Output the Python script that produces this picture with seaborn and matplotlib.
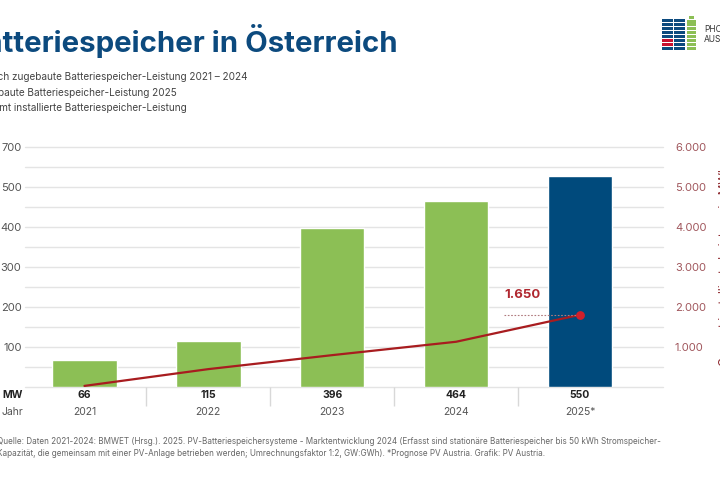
import matplotlib
matplotlib.use("Agg")
import matplotlib.pyplot as plt
import matplotlib.patches as mpatches
import seaborn as sns

sns.set_theme(style="white")
plt.rcParams["font.family"] = ["Inter", "DejaVu Sans"]

# data
jahre = ["2021", "2022", "2023", "2024", "2025*"]
mw_label = ["66", "115", "396", "464", "550"]
mw_balken = [66, 115, 396, 464, 528]          # drawn bar heights (MW)
gesamt = [20, 440, 790, 1125, 1800]           # cumulative line (MWh, right axis)
gesamt_label = "1.650"
links_ticks = [100, 200, 300, 400, 500, 600]
links_labels = ["100", "200", "300", "400", "500", "700"]
rechts_ticks = [1000, 2000, 3000, 4000, 5000, 6000]
rechts_labels = ["1.000", "2.000", "3.000", "4.000", "5.000", "6.000"]

gruen = "#8cbf55"
blau = "#004a7c"
rot = "#a81c1f"
rot_punkt = "#d1202b"
titel_blau = "#0c4a7e"
grau = "#555555"

fig = plt.figure(figsize=(7.2, 4.8), dpi=100)
ax = fig.add_axes([25 / 720, 1 - 386.7 / 480, (663 - 25) / 720, (386.7 - 147) / 480])

sns.barplot(x=jahre, y=mw_balken, hue=jahre, palette=[gruen] * 4 + [blau],
            width=0.52, legend=False, saturation=1, ax=ax, zorder=2)
ax.set_xlim(-0.48, 4.67)
ax.set_ylim(0, 600)
ax.set_yticks(links_ticks, links_labels)
for yy in range(0, 601, 50):
    ax.axhline(yy, color="#e4e4e4", linewidth=1, zorder=0, clip_on=False)
ax.tick_params(axis="y", length=0, pad=2.5, labelsize=8, labelcolor=grau)
ax.set_xticks([])
ax.set_xlabel("")
for s in ax.spines.values():
    s.set_visible(False)

ax2 = ax.twinx()
x_pos = list(range(len(jahre)))
sns.lineplot(x=x_pos, y=gesamt, color=rot, linewidth=1.6, ax=ax2)
ax2.scatter([x_pos[-1]], [gesamt[-1]], s=28, color=rot_punkt, zorder=5)
ax2.set_ylim(0, 6000)
ax2.set_yticks(rechts_ticks, rechts_labels)
ax2.tick_params(axis="y", length=0, pad=8.6, labelsize=8, labelcolor="#a0565c")
for s in ax2.spines.values():
    s.set_visible(False)
ax2.plot([x_pos[-1] - 0.61, x_pos[-1]], [gesamt[-1], gesamt[-1]], ls=(0, (1.5, 1.5)),
         color="#b07a7e", linewidth=0.8)
ax2.text(x_pos[-1] - 0.61, gesamt[-1] + 500, gesamt_label, color="#b0272f",
         fontsize=9.5, fontweight="bold", ha="left", va="center")
ax2.set_ylabel("")

# table below the axes
tr = ax.get_xaxis_transform()
for i in x_pos:
    ax.text(i, -0.035, mw_label[i], transform=tr, ha="center", va="center",
            fontsize=7.5, fontweight="bold", color="#222222")
    ax.text(i, -0.105, jahre[i], transform=tr, ha="center", va="center",
            fontsize=7.5, color=grau)
ax.vlines([0.5, 1.5, 2.5, 3.5], -0.08, 0, transform=tr, color="#d8d8d8",
          linewidth=1, clip_on=False)
fig.text(13 / 720, 1 - 395 / 480, "MW", ha="center", va="center", fontsize=7.5,
         fontweight="bold", color="#222222")
fig.text(12 / 720, 1 - 412 / 480, "Jahr", ha="center", va="center", fontsize=7.5,
         color=grau)

# title and legend text (cut at the left edge as in the source)
fig.text(398 / 720, 1 - 52 / 480, "Batteriespeicher in Österreich", ha="right",
         va="baseline", fontsize=21.2, fontweight="bold", color=titel_blau)
legende = ["Jährlich zugebaute Batteriespeicher-Leistung 2021 – 2024",
           "Zugebaute Batteriespeicher-Leistung 2025",
           "Gesamt installierte Batteriespeicher-Leistung"]
legende_rechts = [248, 177, 187]
for k, t in enumerate(legende):
    fig.text(legende_rechts[k] / 720, 1 - (77 + 15.5 * k) / 480, t, ha="right",
             va="center", fontsize=7.2, color="#444444")

# right axis title, mostly outside the picture
fig.text(725 / 720, 1 - 265 / 480, "Gesamt installierte Leistung in MWh",
         rotation=90, ha="center", va="center", fontsize=8.5, color="#8f2a30")

# footnote
fig.text(-3 / 720, 1 - 441 / 480,
         "Quelle: Daten 2021-2024: BMWET (Hrsg.). 2025. PV-Batteriespeichersysteme - "
         "Marktentwicklung 2024 (Erfasst sind stationäre Batteriespeicher bis 50 kWh Stromspeicher-",
         ha="left", va="center", fontsize=5.85, color="#666666")
fig.text(-3 / 720, 1 - 453 / 480,
         "Kapazität, die gemeinsam mit einer PV-Anlage betrieben werden; Umrechnungsfaktor 1:2, "
         "GW:GWh). *Prognose PV Austria. Grafik: PV Austria.",
         ha="left", va="center", fontsize=5.85, color="#666666")

# logo
def rect(x, y, w, h, c):
    fig.patches.append(mpatches.Rectangle((x / 720, 1 - (y + h) / 480), w / 720, h / 480,
                                          transform=fig.transFigure, color=c, lw=0))

for r in range(8):
    y = 19 + r * 4
    c1 = "#c8102e" if r in (5, 6) else "#0c4a7e"
    rect(662, y, 11, 2.6, c1)
    rect(674, y, 11, 2.6, "#0c4a7e")
    rect(687, y + 1.5 if r == 0 else y, 9, 2.6, gruen)
rect(689, 16, 5, 3, gruen)
fig.text(704 / 720, 1 - 29 / 480, "PHOTOVOLTAIC", fontsize=6, color="#333333",
         va="center", ha="left")
fig.text(704 / 720, 1 - 40 / 480, "AUSTRIA", fontsize=6, color="#333333",
         va="center", ha="left")

fig.savefig("out.png", dpi=100)
